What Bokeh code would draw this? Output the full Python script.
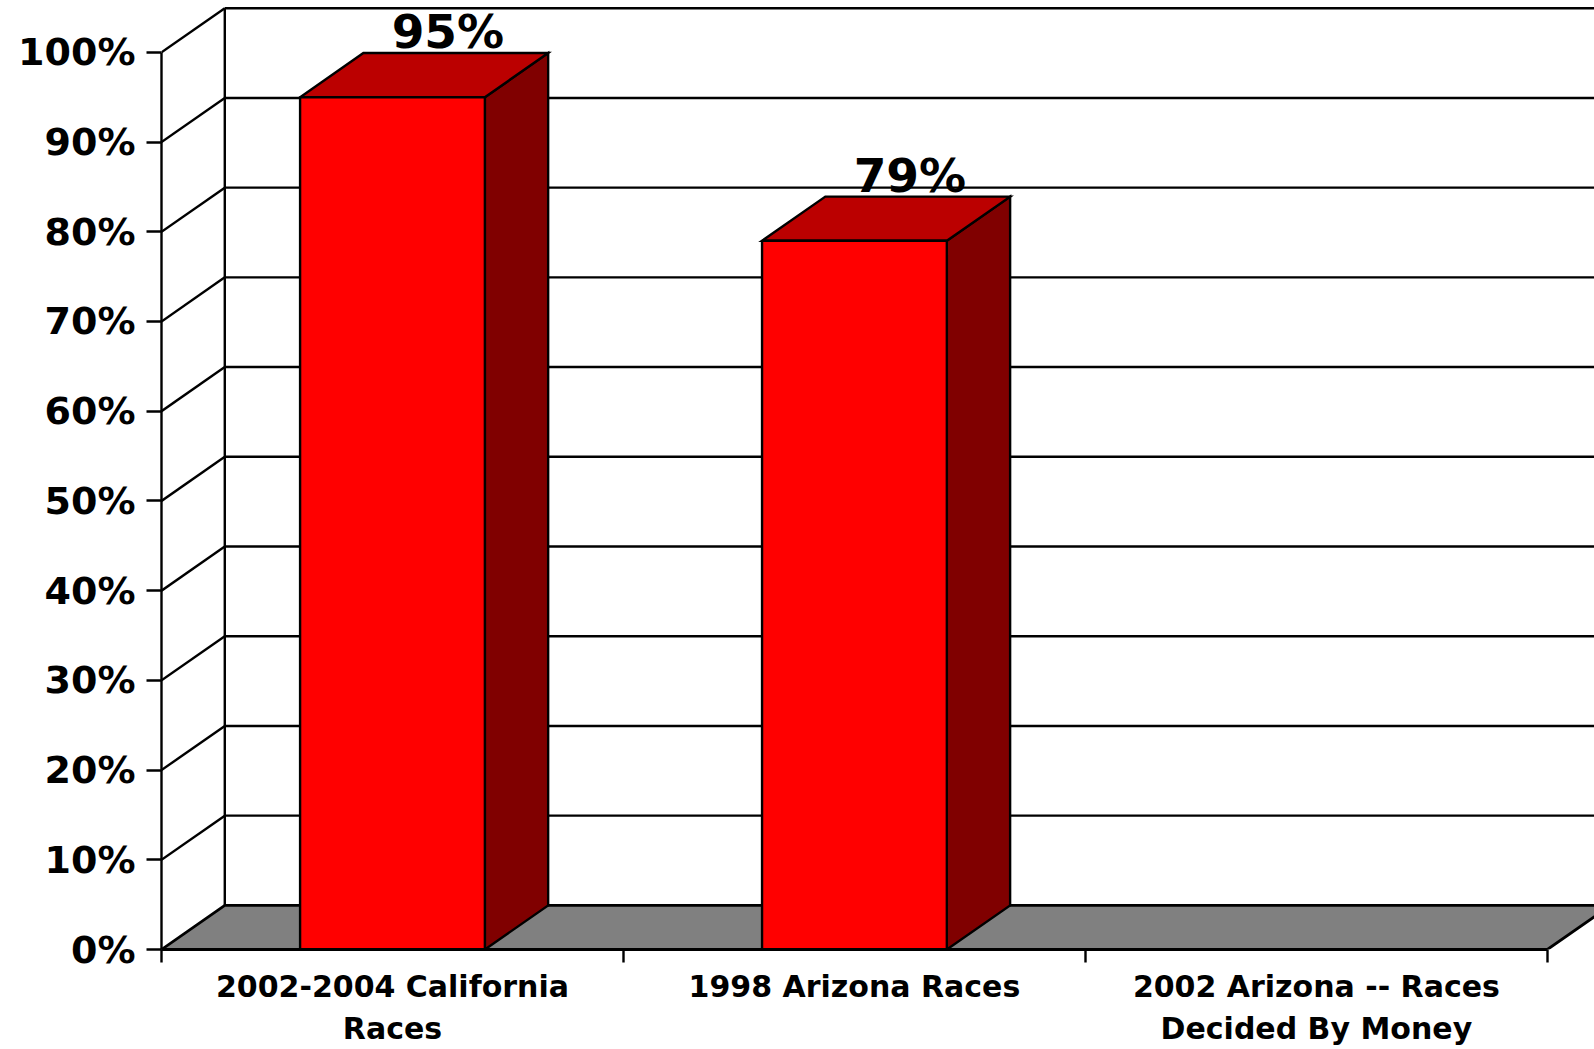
from bokeh.plotting import figure
from bokeh.models import Range1d, LinearAxis, FixedTicker
from bokeh.embed import file_html
from bokeh.resources import INLINE
from bokeh.core.properties import value

# ---- data ----
categories = ["2002-2004 California\nRaces", "1998 Arizona Races", "2002 Arizona -- Races\nDecided By Money"]
values = [95, 79, None]
value_labels = ["95%", "79%", ""]
y_ticks = [0, 10, 20, 30, 40, 50, 60, 70, 80, 90, 100]
y_tick_labels = ["0%", "10%", "20%", "30%", "40%", "50%", "60%", "70%", "80%", "90%", "100%"]

# ---- 3D projection settings (data units) ----
DX = 0.137      # depth offset along x (category units)
DY = 4.92       # depth offset along y (percent units)
BAR_W = 0.40
XR = 3.102
YT = 105.78
N = len(categories)

p = figure(width=1594, height=1049, x_range=Range1d(0, XR), y_range=Range1d(0, YT),
           output_backend="svg", toolbar_location=None,
           x_axis_type=None, y_axis_type=None,
           min_border_left=161, min_border_right=0, min_border_top=0, min_border_bottom=100)
p.outline_line_color = None
p.background_fill_color = "white"
p.border_fill_color = "white"

LW = 2.4

# back-wall gridlines
gx0, gx1, gy = [], [], []
for t in y_ticks[1:]:
    gx0.append(DX); gx1.append(XR + 1); gy.append(t + DY)
p.segment(x0=gx0, y0=gy, x1=gx1, y1=gy, line_color="black", line_width=LW)

# side-wall slanted gridlines
sx0, sy0, sx1, sy1 = [], [], [], []
for t in y_ticks[1:]:
    sx0.append(0); sy0.append(t); sx1.append(DX); sy1.append(t + DY)
p.segment(x0=sx0, y0=sy0, x1=sx1, y1=sy1, line_color="black", line_width=LW)

# back wall left edge
p.segment(x0=[DX], y0=[DY], x1=[DX], y1=[y_ticks[-1] + DY], line_color="black", line_width=LW)

# floor
p.patch(x=[0, N, N + DX, DX], y=[0, 0, DY, DY], fill_color="#808080",
        line_color="black", line_width=LW + 0.4)

# bars
for i, v in enumerate(values):
    if v is None:
        continue
    x0 = i + 0.5 - BAR_W / 2
    x1 = i + 0.5 + BAR_W / 2
    # side face
    p.patch(x=[x1, x1 + DX, x1 + DX, x1], y=[0, DY, v + DY, v],
            fill_color="#800000", line_color="black", line_width=LW, line_join="miter")
    # top face
    p.patch(x=[x0, x1, x1 + DX, x0 + DX], y=[v, v, v + DY, v + DY],
            fill_color="#BB0000", line_color="black", line_width=LW, line_join="miter")
    # front face
    p.quad(left=[x0], right=[x1], bottom=[0], top=[v],
           fill_color="#FF0000", line_color="black", line_width=LW)

# value labels
lx, ly, lt = [], [], []
for i, v in enumerate(values):
    if v is None:
        continue
    lx.append(i + 0.5 + 0.12); ly.append(v + DY + 2.4); lt.append(value_labels[i])
p.text(x=lx, y=ly, text=lt, text_font=value("DejaVu Sans"), text_font_style="bold",
       text_font_size="47px", text_align="center", text_baseline="alphabetic", text_color="black")

# y axis
yaxis = LinearAxis(ticker=FixedTicker(ticks=y_ticks), bounds=(0, 100))
yaxis.major_label_overrides = {t: l for t, l in zip(y_ticks, y_tick_labels)}
yaxis.major_tick_out = 15
yaxis.major_tick_in = 0
yaxis.minor_tick_out = 0
yaxis.minor_tick_in = 0
yaxis.major_label_standoff = 11
yaxis.axis_line_width = LW
yaxis.major_tick_line_width = LW
yaxis.axis_line_color = "black"
yaxis.major_label_text_font = "DejaVu Sans"
yaxis.major_label_text_font_style = "bold"
yaxis.major_label_text_font_size = "38px"
yaxis.major_label_text_color = "black"
p.add_layout(yaxis, "left")

# x axis
centers = [i + 0.5 for i in range(N)]
bounds_ticks = [i for i in range(N + 1)]
xaxis = LinearAxis(ticker=FixedTicker(ticks=centers, minor_ticks=bounds_ticks), bounds=(0, N))
xaxis.major_label_overrides = {c: l for c, l in zip(centers, categories)}
xaxis.major_tick_out = 0
xaxis.major_tick_in = 0
xaxis.minor_tick_out = 13
xaxis.minor_tick_in = 0
xaxis.minor_tick_line_color = "black"
xaxis.minor_tick_line_width = LW
xaxis.axis_line_width = LW + 0.4
xaxis.axis_line_color = "black"
xaxis.major_label_standoff = 6
xaxis.major_label_text_font = "DejaVu Sans"
xaxis.major_label_text_font_style = "bold"
xaxis.major_label_text_font_size = "30px"
xaxis.major_label_text_line_height = 1.2
xaxis.major_label_text_color = "black"
p.add_layout(xaxis, "below")

open("out.html", "w").write(file_html(p, INLINE))
